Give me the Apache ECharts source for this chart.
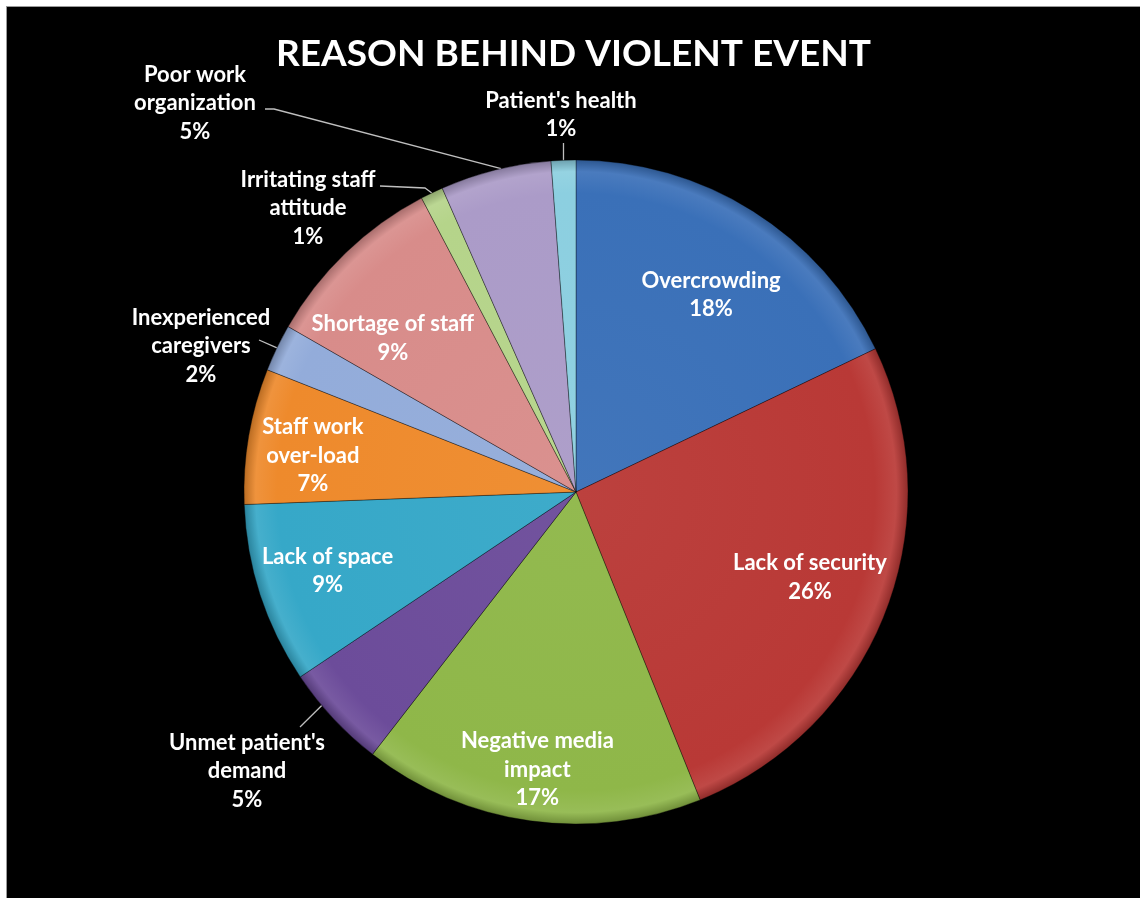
<!DOCTYPE html>
<html>
<head>
<meta charset="utf-8">
<script src="https://cdn.jsdelivr.net/npm/echarts@6/dist/echarts.min.js"></script>
<style>
  html, body { margin: 0; padding: 0; background: #ffffff; }
  #frame { position: absolute; left: 6px; top: 6px; width: 1134px; height: 892px; border-left: 1px solid #9a9a9a; border-top: 1px solid #9a9a9a; }
  #chart { width: 1133px; height: 891px; }
</style>
</head>
<body>
<div id="frame"><div id="chart"></div></div>
<script>
// ---- data ----
const chartTitle = "REASON BEHIND VIOLENT EVENT";
const categories = [
  "Overcrowding", "Lack of security", "Negative media impact", "Unmet patient's demand",
  "Lack of space", "Staff work over-load", "Inexperienced caregivers", "Shortage of staff",
  "Irritating staff attitude", "Poor work organization", "Patient's health"
];
// shares (%); labels show them rounded
const values = [17.9, 26.0, 16.6, 5.1, 8.8, 6.6, 2.3, 9.0, 1.1, 5.4, 1.2];
const labelTexts = [
  "Overcrowding", "Lack of security", "Negative media\nimpact", "Unmet patient's\ndemand",
  "Lack of space", "Staff work\nover-load", "Inexperienced\ncaregivers", "Shortage of staff",
  "Irritating staff\nattitude", "Poor work\norganization", "Patient's health"
];
const sliceColors = [
  "#3a70b8", "#b93936", "#8fb749", "#6c4c9a", "#36a8c8", "#ee8a2c",
  "#93acda", "#d88c8a", "#b5d48a", "#ab9bc8", "#8ccfe0"
];

// ---- style / layout (not data) ----
const CX = 569, CY = 485, R = 332;
// inside labels: radial fraction of radius and angular nudge (degrees, clockwise)
const insideLabels = {
  0: { r: 0.72, da: 2.2 },
  1: { r: 0.75, da: -1.2 },
  2: { r: 0.845, da: 0 },
  4: { r: 0.785, da: 0.4 },
  5: { r: 0.80, da: -1.9 },
  7: { r: 0.72, da: -6.1 }
};
// outside labels: label centre, guide-line end/elbow offsets, anchor nudge on the arc (degrees)
const outsideLabels = {
  3:  { x: 240, y: 764, end: [53, -44], da: 3 },
  6:  { x: 194, y: 339, end: [58, -6], da: 0 },
  8:  { x: 301, y: 201, end: [72, -22], elbow: [117, -20], da: 0 },
  9:  { x: 188, y: 96,  end: [70, 6], elbow: [79, 6], da: 1 },
  10: { x: 554, y: 108, end: [null, 28], da: 0 }
};
const DEG = Math.PI / 180;

function shade(hex, f) {
  const n = parseInt(hex.slice(1), 16);
  let r = (n >> 16) & 255, g = (n >> 8) & 255, b = n & 255;
  const m = v => Math.max(0, Math.min(255, Math.round(f < 0 ? v * (1 + f) : v + (255 - v) * f)));
  return 'rgb(' + m(r) + ',' + m(g) + ',' + m(b) + ')';
}
// rotate a point around the pie centre by d degrees (clockwise on screen)
function rotate(p, d) {
  const a = d * DEG, x = p[0] - CX, y = p[1] - CY;
  return [CX + x * Math.cos(a) - y * Math.sin(a), CY + x * Math.sin(a) + y * Math.cos(a)];
}

const seriesData = categories.map((name, i) => ({
  name: name,
  value: values[i],
  itemStyle: {
    color: new echarts.graphic.RadialGradient(CX, CY, R, [
      { offset: 0, color: shade(sliceColors[i], 0.04) },
      { offset: 0.9, color: sliceColors[i] },
      { offset: 0.965, color: shade(sliceColors[i], 0.08) },
      { offset: 1, color: shade(sliceColors[i], -0.22) }
    ], true)
  },
  label: { position: (i in insideLabels) ? 'inside' : 'outside' },
  labelLine: { show: !(i in insideLabels) }
}));

const chart = echarts.init(document.getElementById('chart'), null, { renderer: 'canvas' });
chart.setOption({
  backgroundColor: '#000000',
  animation: false,
  title: {
    text: chartTitle,
    left: 'center',
    top: 24,
    textStyle: { color: '#ffffff', fontFamily: 'Lato', fontWeight: 'bold', fontSize: 37 }
  },
  series: [{
    type: 'pie',
    center: [CX, CY],
    radius: [0, R],
    startAngle: 90,
    clockwise: true,
    avoidLabelOverlap: false,
    itemStyle: { borderColor: 'rgba(0,0,0,0.35)', borderWidth: 1 },
    label: {
      show: true,
      color: '#ffffff',
      fontFamily: 'Lato',
      fontWeight: 'bold',
      fontSize: 22,
      lineHeight: 28.5,
      align: 'center',
      formatter: p => labelTexts[p.dataIndex] + '\n' + Math.round(p.percent) + '%'
    },
    labelLine: {
      show: true,
      length: 10,
      length2: 10,
      lineStyle: { color: '#bfbfbf', width: 1.3 }
    },
    labelLayout: function (params) {
      const i = params.dataIndex;
      if (i in insideLabels) {
        const cfg = insideLabels[i];
        const lr = params.labelRect;
        const px = lr.x + lr.width / 2, py = lr.y + lr.height / 2;
        const th = Math.atan2(px - CX, -(py - CY)) + cfg.da * DEG;
        const rr = cfg.r * R;
        return { x: CX + rr * Math.sin(th), y: CY - rr * Math.cos(th), align: 'center', verticalAlign: 'middle' };
      }
      const o = outsideLabels[i];
      if (!o) return {};
      const p0 = rotate(params.labelLinePoints ? params.labelLinePoints[0] : [CX, CY - R], o.da);
      const endX = o.end[0] == null ? p0[0] : o.x + o.end[0];
      const pts = [p0];
      if (o.elbow) pts.push([o.x + o.elbow[0], o.y + o.elbow[1]]);
      pts.push([endX, o.y + o.end[1]]);
      return { x: o.x, y: o.y, align: 'center', verticalAlign: 'middle', labelLinePoints: pts };
    },
    data: seriesData
  }]
});
</script>
</body>
</html>
